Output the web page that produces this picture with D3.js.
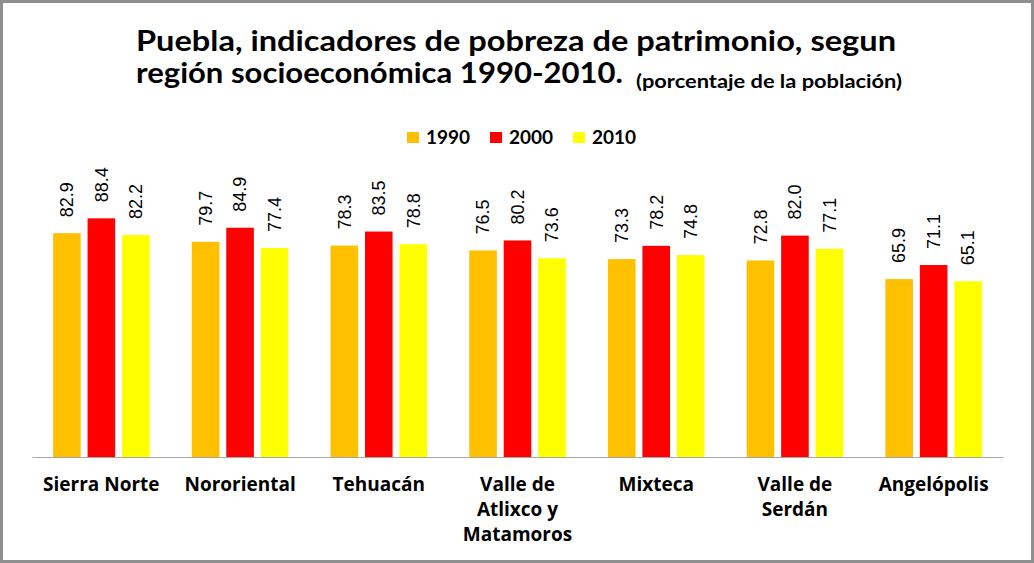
<!DOCTYPE html>
<html>
<head>
<meta charset="utf-8">
<script src="https://cdn.jsdelivr.net/npm/d3@7"></script>
<style>
  body { margin: 0; background: #fff; }
  svg { display: block; }
</style>
</head>
<body>
<script>
var regions = ["Sierra Norte", "Nororiental", "Tehuacán", "Valle de Atlixco y Matamoros", "Mixteca", "Valle de Serdán", "Angelópolis"];
var regionLines = [["Sierra Norte"], ["Nororiental"], ["Tehuacán"], ["Valle de", "Atlixco y", "Matamoros"], ["Mixteca"], ["Valle de", "Serdán"], ["Angelópolis"]];
var years = ["1990", "2000", "2010"];
var v1990 = [82.9, 79.7, 78.3, 76.5, 73.3, 72.8, 65.9];
var v2000 = [88.4, 84.9, 83.5, 80.2, 78.2, 82.0, 71.1];
var v2010 = [82.2, 77.4, 78.8, 73.6, 74.8, 77.1, 65.1];
var colors = ["#FFC000", "#FF0000", "#FFFF00"];

var W = 1034, H = 563;
var margin = {top: 187, right: 31, bottom: 106, left: 32},
    width = W - margin.left - margin.right,
    height = H - margin.top - margin.bottom;

var series = [v1990, v2000, v2010];

var svg = d3.select("body").append("svg")
    .attr("width", W)
    .attr("height", H);

// marco
svg.append("rect")
    .attr("x", 1.5).attr("y", 1.5)
    .attr("width", W - 3).attr("height", H - 3)
    .attr("fill", "#fff")
    .attr("stroke", "#8f8f8f")
    .attr("stroke-width", 3);

// titulo
var title = svg.append("g")
    .attr("font-family", "Lato, 'Open Sans', sans-serif")
    .attr("font-weight", "bold")
    .attr("fill", "#000");

title.append("text")
    .attr("x", 136).attr("y", 51)
    .attr("font-size", 28)
    .attr("textLength", 760).attr("lengthAdjust", "spacingAndGlyphs")
    .text("Puebla, indicadores de pobreza de patrimonio, segun");

title.append("text")
    .attr("x", 136).attr("y", 83)
    .attr("font-size", 28)
    .attr("textLength", 487).attr("lengthAdjust", "spacingAndGlyphs")
    .text("región socioeconómica  1990-2010.");

title.append("text")
    .attr("x", 636).attr("y", 88)
    .attr("font-size", 18)
    .attr("textLength", 266).attr("lengthAdjust", "spacingAndGlyphs")
    .text("(porcentaje de la población)");

var chart = svg.append("g")
    .attr("transform", `translate(${margin.left},${margin.top})`);

var x0 = d3.scaleBand()
    .domain(regions)
    .range([0, width]);

var x1 = d3.scaleBand()
    .domain(years)
    .range([x0.bandwidth() * 0.152, x0.bandwidth() * 0.848])
    .paddingInner(0.2);

var y = d3.scaleLinear()
    .domain([0, 100])
    .range([height, 0]);

var color = d3.scaleOrdinal()
    .domain(years)
    .range(colors);

var rows = regions.map((r, i) => ({
    region: r,
    values: years.map((yr, j) => ({year: yr, value: series[j][i]}))
}));

var groups = chart.selectAll(".grp")
    .data(rows)
    .enter()
    .append("g")
    .attr("class", "grp")
    .attr("transform", d => `translate(${x0(d.region)},0)`);

groups.selectAll("rect")
    .data(d => d.values)
    .enter()
    .append("rect")
    .attr("x", d => x1(d.year))
    .attr("y", d => y(d.value))
    .attr("width", x1.bandwidth())
    .attr("height", d => height - y(d.value))
    .attr("fill", d => color(d.year));

groups.selectAll(".lbl")
    .data(d => d.values)
    .enter()
    .append("text")
    .attr("class", "lbl")
    .attr("transform", d => `translate(${x1(d.year) + x1.bandwidth() / 2},${y(d.value) - 16}) rotate(-90)`)
    .attr("dy", "0.35em")
    .attr("font-family", "'Liberation Sans', Arial, sans-serif")
    .attr("font-size", 18)
    .attr("fill", "#000")
    .text(d => d.value.toFixed(1));

// eje x
var xAxis = chart.append("g")
    .attr("transform", `translate(0,${height})`)
    .call(d3.axisBottom(x0).tickSize(0).tickFormat(""));
xAxis.select(".domain").attr("stroke", "#a6a6a6").attr("stroke-width", 1.2);

var catLabels = chart.append("g")
    .attr("font-family", "'Open Sans', sans-serif")
    .attr("font-weight", "bold")
    .attr("font-size", 19)
    .attr("text-anchor", "middle")
    .attr("fill", "#000");

regions.forEach((r, i) => {
    var t = catLabels.append("text")
        .attr("x", x0(r) + x0.bandwidth() / 2)
        .attr("y", height + 34);
    regionLines[i].forEach((ln, k) => {
        t.append("tspan")
            .attr("x", x0(r) + x0.bandwidth() / 2)
            .attr("dy", k === 0 ? 0 : 25)
            .text(ln);
    });
});

// leyenda
var legX = [407, 490, 573];
var legend = svg.append("g")
    .attr("font-family", "Lato, 'Open Sans', sans-serif")
    .attr("font-weight", "bold")
    .attr("font-size", 19);

years.forEach((yr, i) => {
    legend.append("rect")
        .attr("x", legX[i]).attr("y", 132)
        .attr("width", 12).attr("height", 11)
        .attr("fill", color(yr));
    legend.append("text")
        .attr("x", legX[i] + 19).attr("y", 144)
        .text(yr);
});
</script>
</body>
</html>
